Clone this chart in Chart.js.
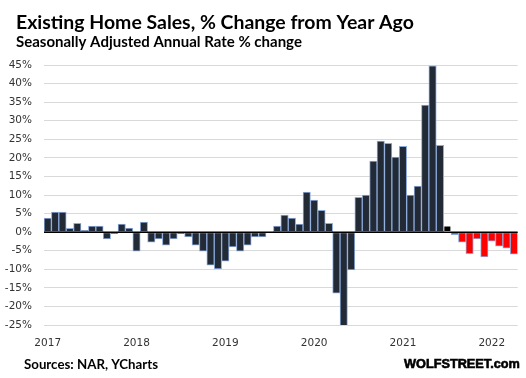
<!DOCTYPE html>
<html>
<head>
<meta charset="utf-8">
<script src="https://cdn.jsdelivr.net/npm/chart.js@4.4.1/dist/chart.umd.min.js"></script>
<style>
  html, body { margin: 0; padding: 0; background: #ffffff; }
  #wrap { width: 526px; height: 378px; position: relative; }
</style>
</head>
<body>
<div id="wrap"><canvas id="c" width="526" height="378"></canvas></div>
<script>
const TITLE = 'Existing Home Sales, % Change from Year Ago';
const SUBTITLE = 'Seasonally Adjusted Annual Rate % change';
const SOURCE = 'Sources: NAR, YCharts';
const BRAND = 'WOLFSTREET.com';

const months = [
  'Jan 2017','Feb 2017','Mar 2017','Apr 2017','May 2017','Jun 2017','Jul 2017','Aug 2017','Sep 2017','Oct 2017','Nov 2017','Dec 2017',
  'Jan 2018','Feb 2018','Mar 2018','Apr 2018','May 2018','Jun 2018','Jul 2018','Aug 2018','Sep 2018','Oct 2018','Nov 2018','Dec 2018',
  'Jan 2019','Feb 2019','Mar 2019','Apr 2019','May 2019','Jun 2019','Jul 2019','Aug 2019','Sep 2019','Oct 2019','Nov 2019','Dec 2019',
  'Jan 2020','Feb 2020','Mar 2020','Apr 2020','May 2020','Jun 2020','Jul 2020','Aug 2020','Sep 2020','Oct 2020','Nov 2020','Dec 2020',
  'Jan 2021','Feb 2021','Mar 2021','Apr 2021','May 2021','Jun 2021','Jul 2021','Aug 2021','Sep 2021','Oct 2021','Nov 2021','Dec 2021',
  'Jan 2022','Feb 2022','Mar 2022','Apr 2022'
];

// Year-over-year % change, seasonally adjusted annual rate
const yoyChange = [
  3.8, 5.4, 5.4, 1.0, 2.4, 0.5, 1.6, 1.6, -1.8, -0.4, 2.2, 1.1,
  -5.1, 2.7, -2.7, -1.8, -3.5, -1.8, -0.4, -1.3, -3.5, -5.1, -8.9, -9.9,
  -7.8, -4.0, -5.1, -3.5, -1.3, -1.3, 0.0, 1.6, 4.6, 3.8, 2.2, 10.8,
  8.6, 5.9, 2.4, -16.4, -26.6, -10.2, 9.4, 10.0, 19.1, 24.5, 23.9, 20.2,
  23.1, 10.0, 12.4, 34.2, 44.8, 23.4, 1.7, -0.7, -2.7, -5.8, -1.8, -6.7,
  -2.4, -3.8, -4.3, -5.9
];

const yTicks = [-25, -20, -15, -10, -5, 0, 5, 10, 15, 20, 25, 30, 35, 40, 45];
const transitionMonth = 'Jul 2021';   // plain black bar
const firstRedMonth = 'Aug 2021';     // red bars from here on

const idxBlack = months.indexOf(transitionMonth);
const idxRed = months.indexOf(firstRedMonth);

function fillFor(ctx) {
  const i = ctx.dataIndex;
  if (i === idxBlack) return '#000000';
  if (i >= idxRed) return '#ff0000';
  return '#222a35';
}
function borderFor(ctx) {
  const i = ctx.dataIndex;
  if (i === idxBlack) return 'rgba(0,0,0,0)';
  return '#8eaadb';
}

// pick a font size so the text spans the wanted width
function fitFont(ctx, text, family, weight, width) {
  ctx.font = weight + ' 20px ' + family;
  const w = ctx.measureText(text).width;
  const size = 20 * width / w;
  ctx.font = weight + ' ' + size.toFixed(2) + 'px ' + family;
}

const textPlugin = {
  id: 'texts',
  afterDatasetsDraw(chart) {
    const { ctx, chartArea, scales } = chart;
    const y0 = scales.y.getPixelForValue(0);
    ctx.save();
    ctx.strokeStyle = '#000000';
    ctx.lineWidth = 1.5;
    ctx.beginPath();
    ctx.moveTo(chartArea.left, y0);
    ctx.lineTo(chartArea.right, y0);
    ctx.stroke();
    ctx.restore();
  },
  afterDraw(chart) {
    const ctx = chart.ctx;
    ctx.save();
    ctx.fillStyle = '#000000';
    ctx.textBaseline = 'alphabetic';
    ctx.textAlign = 'left';
    fitFont(ctx, TITLE, 'Lato', 'bold', 398);
    ctx.fillText(TITLE, 16, 29);
    fitFont(ctx, SUBTITLE, 'Lato', 'bold', 286);
    ctx.fillText(SUBTITLE, 16, 47);
    fitFont(ctx, SOURCE, 'Lato', 'bold', 134);
    ctx.fillText(SOURCE, 24, 369);
    ctx.textAlign = 'left';
    fitFont(ctx, BRAND, '"Liberation Sans"', 'bold', 116);
    ctx.lineWidth = 0.6;
    ctx.strokeStyle = '#000000';
    ctx.fillText(BRAND, 404, 368);
    ctx.strokeText(BRAND, 404, 368);
    ctx.restore();
  }
};

new Chart(document.getElementById('c'), {
  type: 'bar',
  data: {
    labels: months,
    datasets: [{
      data: yoyChange,
      backgroundColor: fillFor,
      borderColor: borderFor,
      borderWidth: 1,
      borderSkipped: false,
      categoryPercentage: 1.0,
      barPercentage: 1.0
    }]
  },
  options: {
    responsive: false,
    animation: false,
    devicePixelRatio: 1,
    layout: { padding: { top: 65, right: 4, bottom: 23, left: 0 } },
    plugins: {
      legend: { display: false },
      title: { display: false },
      tooltip: { enabled: false }
    },
    scales: {
      x: {
        grid: { display: false, drawTicks: false },
        border: { display: false },
        ticks: {
          autoSkip: false,
          maxRotation: 0,
          minRotation: 0,
          padding: 12,
          color: '#333333',
          font: { family: '"DejaVu Sans"', size: 10.5 },
          callback: function (val, i) {
            const lab = months[i];
            return lab.startsWith('Jan') ? lab.slice(4) : '';
          }
        },
        afterFit(scale) { scale.height = 30; }
      },
      y: {
        min: -25,
        max: 45,
        afterBuildTicks(scale) { scale.ticks = yTicks.map(v => ({ value: v })); },
        grid: { color: '#d9d9d9', lineWidth: 1, drawTicks: false },
        border: { display: false },
        ticks: {
          padding: 12,
          color: '#333333',
          font: { family: '"DejaVu Sans"', size: 10.5 },
          callback: v => v + '%'
        },
        afterFit(scale) { scale.width = 44; }
      }
    }
  },
  plugins: [textPlugin]
});
</script>
</body>
</html>
